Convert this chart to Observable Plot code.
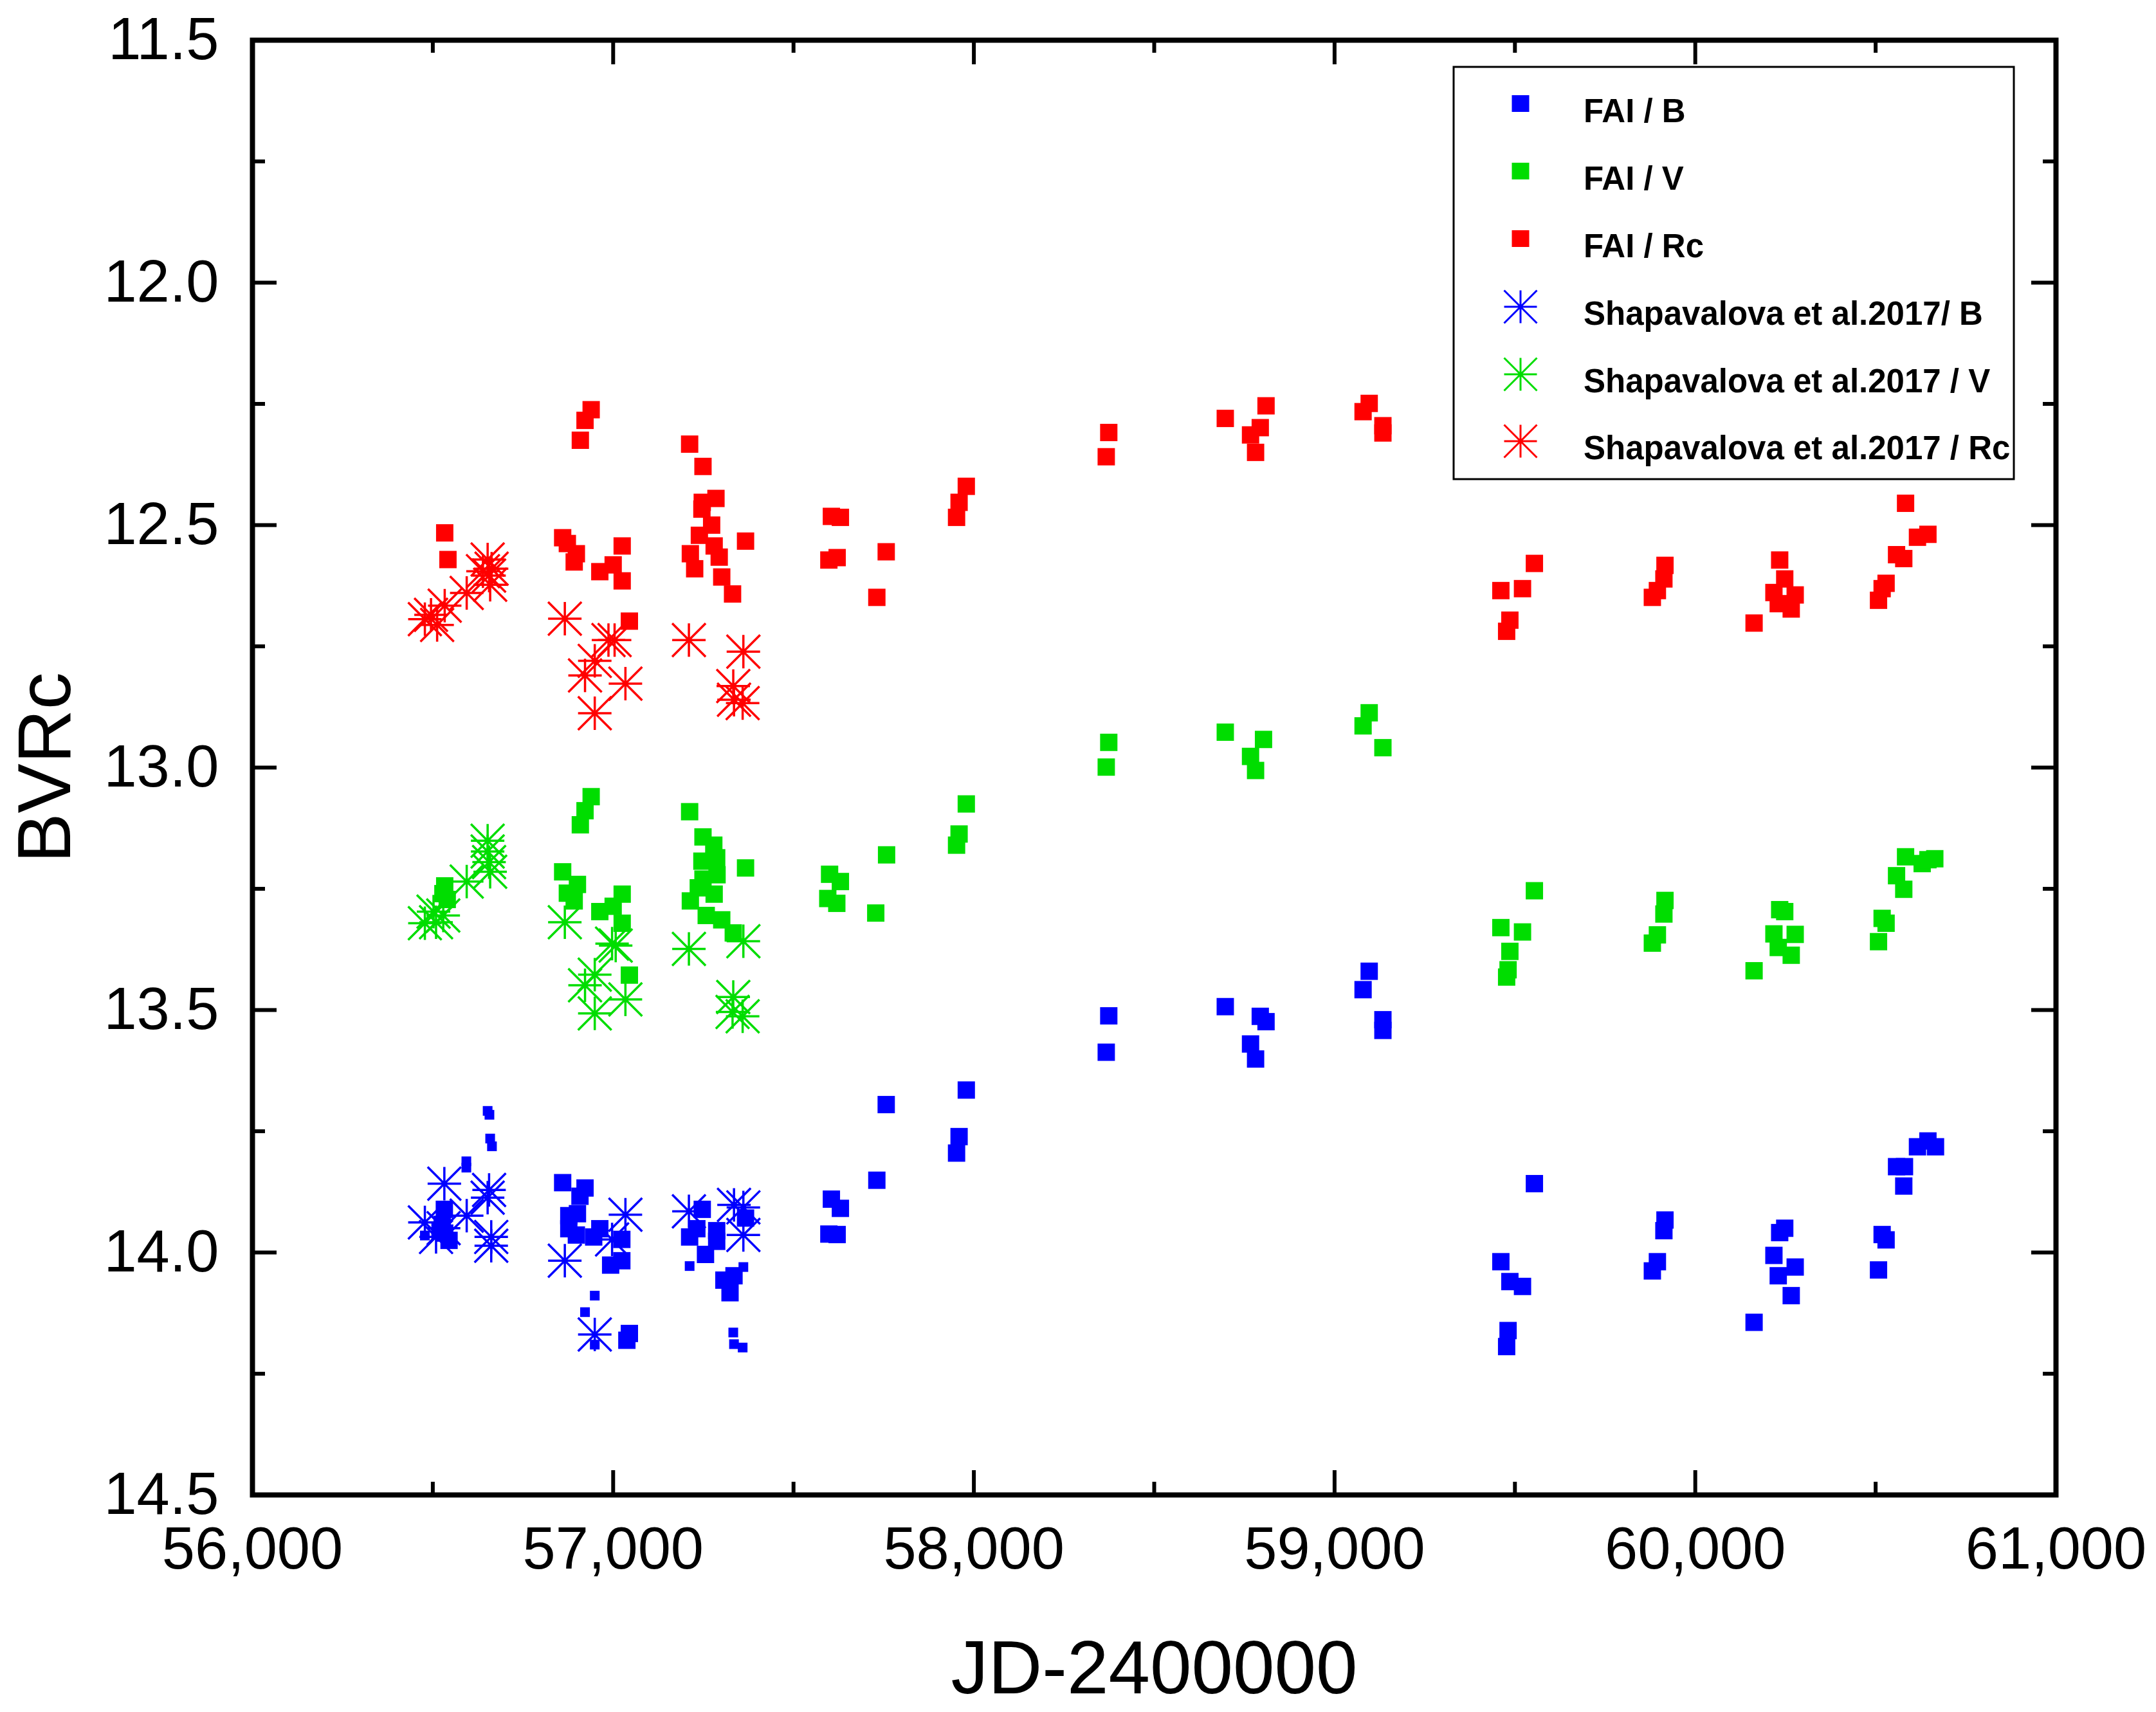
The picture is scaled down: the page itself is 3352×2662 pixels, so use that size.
<!DOCTYPE html>
<html><head><meta charset="utf-8">
<script src="https://cdn.jsdelivr.net/npm/d3@7"></script>
<script src="https://cdn.jsdelivr.net/npm/@observablehq/plot@0.6"></script>
<style>html,body{margin:0;padding:0;background:#fff;}</style>
</head><body><div id="chart"></div>
<script>
// ---------- data: [JD-2400000, magnitude] ----------
const faiB = [
 [56532,13.911],[56526,13.942],[56533,13.960],[56545,13.975],[56520,13.955],
 [56860,13.856],[56922,13.867],[56908,13.884],[56877,13.924],[56901,13.920],[56877,13.951],[56898,13.964],[56963,13.951],[56946,13.968],[57024,13.973],[57024,14.017],[56993,14.026],[57045,14.167],[57038,14.181],
 [57247,13.911],[57232,13.951],[57212,13.968],[57287,13.955],[57287,13.977],[57256,14.004],[57367,13.929],[57335,14.048],[57307,14.057],[57324,14.083],
 [57605,13.890],[57630,13.909],[57598,13.962],[57621,13.963],[57731,13.851],[57757,13.695],[57979,13.665],[57959,13.761],[57952,13.795],
 [58374,13.512],[58367,13.587],[58697,13.493],[58794,13.513],[58810,13.524],[58767,13.570],[58781,13.601],[59096,13.420],[59079,13.458],[59134,13.520],[59134,13.542],
 [59554,13.858],[59461,14.019],[59486,14.060],[59521,14.070],[59481,14.161],[59477,14.194],
 [59916,13.933],[59913,13.955],[59895,14.019],[59881,14.038],
 [60248,13.950],[60234,13.959],[60218,14.006],[60277,14.030],[60230,14.048],[60266,14.089],[60163,14.144],
 [60645,13.770],[60616,13.782],[60666,13.782],[60558,13.823],[60580,13.823],[60578,13.863],[60518,13.963],[60529,13.974],[60508,14.036]
];
const faiBSmall = [
 [56652,13.708],[56657,13.716],[56659,13.765],[56664,13.781],[56593,13.812],[56593,13.825],[56478,13.965],
 [56949,14.089],[56922,14.123],[56949,14.190],[57212,14.028],[57361,14.030],[57333,14.165],[57335,14.189],[57359,14.196]
];
const faiV = [
 [56533,13.244],[56540,13.272],[56528,13.260],
 [56860,13.215],[56901,13.241],[56873,13.259],[56892,13.275],[56939,13.060],[56922,13.089],[56909,13.118],[57025,13.261],[57000,13.286],[56963,13.297],[57025,13.321],[57045,13.428],
 [57212,13.091],[57249,13.143],[57279,13.160],[57287,13.186],[57246,13.193],[57288,13.221],[57249,13.230],[57236,13.248],[57280,13.261],[57214,13.275],[57258,13.305],[57301,13.314],[57333,13.341],[57367,13.207],
 [57600,13.220],[57630,13.235],[57595,13.270],[57620,13.280],[57758,13.180],[57728,13.300],[57952,13.160],[57959,13.137],[57979,13.075],
 [58374,12.948],[58367,12.999],[58697,12.927],[58803,12.942],[58767,12.977],[58781,13.006],[59096,12.887],[59079,12.914],[59134,12.959],
 [59554,13.254],[59461,13.330],[59521,13.339],[59486,13.379],[59481,13.417],[59477,13.432],
 [59916,13.274],[59913,13.302],[59895,13.345],[59881,13.362],
 [60234,13.293],[60248,13.297],[60218,13.343],[60277,13.344],[60230,13.371],[60266,13.387],[60163,13.419],
 [60583,13.184],[60629,13.198],[60664,13.188],[60645,13.190],[60558,13.223],[60578,13.251],[60518,13.311],[60529,13.321],[60508,13.359]
];
const faiR = [
 [56533,12.516],[56542,12.571],
 [56939,12.262],[56922,12.284],[56909,12.325],[56860,12.526],[56873,12.538],[56898,12.559],[56892,12.576],[57025,12.543],[57000,12.582],[56963,12.596],[57025,12.615],[57045,12.698],
 [57212,12.333],[57249,12.379],[57285,12.445],[57247,12.453],[57246,12.467],[57273,12.500],[57239,12.521],[57280,12.543],[57367,12.533],[57214,12.559],[57294,12.566],[57226,12.590],[57301,12.607],[57331,12.642],
 [57605,12.482],[57630,12.484],[57598,12.572],[57621,12.567],[57757,12.555],[57731,12.649],[57979,12.420],[57959,12.453],[57952,12.484],
 [58374,12.309],[58367,12.359],[58697,12.280],[58810,12.254],[58794,12.299],[58767,12.314],[58781,12.350],[59096,12.249],[59079,12.266],[59134,12.295],[59134,12.310],
 [59554,12.579],[59461,12.635],[59521,12.631],[59486,12.696],[59477,12.719],
 [59916,12.583],[59913,12.611],[59895,12.635],[59881,12.649],
 [60234,12.572],[60248,12.611],[60218,12.639],[60277,12.644],[60230,12.662],[60266,12.673],[60163,12.702],
 [60583,12.455],[60616,12.525],[60645,12.519],[60558,12.561],[60578,12.569],[60529,12.620],[60518,12.631],[60508,12.655]
];
const shapB = [
 [56478,13.938],[56532,13.858],[56509,13.968],[56530,13.950],[56594,13.924],[56656,13.871],[56652,13.887],[56662,13.968],[56662,13.986],
 [56866,14.017],[57034,13.922],[56997,13.973],[56949,14.169],[57210,13.915],[57335,13.902],[57361,13.907],[57361,13.964]
];
const shapV = [
 [56478,13.321],[56509,13.319],[56529,13.305],[56502,13.297],[56594,13.235],[56652,13.151],[56652,13.173],[56656,13.195],[56659,13.215],
 [56866,13.319],[56997,13.363],[57007,13.367],[56949,13.427],[56922,13.449],[57034,13.478],[56949,13.507],[57210,13.374],[57361,13.358],[57333,13.473],[57331,13.504],[57359,13.513]
];
const shapR = [
 [56478,12.694],[56512,12.706],[56533,12.666],[56495,12.685],[56594,12.640],[56652,12.571],[56663,12.590],[56656,12.604],[56659,12.623],[56639,12.595],
 [56866,12.693],[56987,12.737],[57004,12.737],[56949,12.780],[56922,12.810],[57034,12.827],[56949,12.888],[57210,12.737],[57361,12.761],[57333,12.832],[57335,12.860],[57359,12.867]
];
const xTicks = [56000,57000,58000,59000,60000,61000];
const xMinor = [56500,57500,58500,59500,60500];
const yTicks = [11.5,12.0,12.5,13.0,13.5,14.0,14.5];
const yMinor = [11.75,12.25,12.75,13.25,13.75,14.25];
const legendLabels = ["FAI / B","FAI / V","FAI / Rc","Shapavalova et al.2017/ B","Shapavalova et al.2017 / V","Shapavalova et al.2017 / Rc"];
const colB = "#0000ff", colV = "#00dd00", colR = "#ff0000";

// ---------- layout ----------
const W = 3352, H = 2662, mL = 392, mR = 156, mT = 62, mB = 338;
const innerW = W - mL - mR, innerH = H - mT - mB;
const majorLen = 38, minorLen = 20, tickW = 6;

const star = {draw(ctx, size) {
  const r = Math.sqrt(size / Math.PI);
  ctx.moveTo(-r, 0); ctx.lineTo(r, 0);
  ctx.moveTo(0, -r); ctx.lineTo(0, r);
  ctx.moveTo(-r, -r); ctx.lineTo(r, r);
  ctx.moveTo(-r, r); ctx.lineTo(r, -r);
}};
const starDots = (data, color) => Plot.dot(data, {x: d => d[0], y: d => d[1], symbol: star, r: 26, fill: "none", stroke: color, strokeWidth: 3.5});
const squareDots = (data, color, r) => Plot.dot(data, {x: d => d[0], y: d => d[1], symbol: "square", r, fill: color, stroke: "none"});

const plot = Plot.plot({
  width: W, height: H,
  marginLeft: mL, marginRight: mR, marginTop: mT, marginBottom: mB,
  style: {fontFamily: "'Liberation Sans', Arial, sans-serif", background: "white", color: "black"},
  x: {domain: [56000, 61000], label: null},
  y: {domain: [11.5, 14.5], reverse: true, label: null},
  marks: [
    starDots(shapB, colB), starDots(shapV, colV), starDots(shapR, colR),
    squareDots(faiB, colB, 15.2), squareDots(faiBSmall, colB, 8.5),
    squareDots(faiV, colV, 15.2), squareDots(faiR, colR, 15.2),
    // inward ticks on all four sides
    Plot.tickX(xTicks, {x: d => d, stroke: "black", strokeWidth: tickW, insetTop: innerH - majorLen}),
    Plot.tickX(xTicks, {x: d => d, stroke: "black", strokeWidth: tickW, insetBottom: innerH - majorLen}),
    Plot.tickX(xMinor, {x: d => d, stroke: "black", strokeWidth: tickW, insetTop: innerH - minorLen}),
    Plot.tickX(xMinor, {x: d => d, stroke: "black", strokeWidth: tickW, insetBottom: innerH - minorLen}),
    Plot.tickY(yTicks, {y: d => d, stroke: "black", strokeWidth: tickW, insetRight: innerW - majorLen}),
    Plot.tickY(yTicks, {y: d => d, stroke: "black", strokeWidth: tickW, insetLeft: innerW - majorLen}),
    Plot.tickY(yMinor, {y: d => d, stroke: "black", strokeWidth: tickW, insetRight: innerW - minorLen}),
    Plot.tickY(yMinor, {y: d => d, stroke: "black", strokeWidth: tickW, insetLeft: innerW - minorLen}),
    Plot.frame({stroke: "black", strokeWidth: 8}),
    Plot.axisX(xTicks, {tickSize: 0, tickPadding: 49, fontSize: 92, tickFormat: d3.format(","), label: null}),
    Plot.axisY(yTicks, {tickSize: 0, tickPadding: 52, fontSize: 92, tickFormat: d3.format(".1f"), label: null}),
    Plot.text(["JD-2400000"], {text: d => d, frameAnchor: "bottom", dy: 271, fontSize: 116, textAnchor: "middle", lineAnchor: "middle"}),
    Plot.text(["BVRc"], {text: d => d, frameAnchor: "left", dx: -321, rotate: -90, fontSize: 116, textAnchor: "middle", lineAnchor: "middle"})
  ]
});
document.getElementById("chart").appendChild(plot);

// ---------- legend ----------
const svg = d3.select(plot);
const lg = svg.append("g").attr("font-family", "'Liberation Sans', Arial, sans-serif").attr("text-anchor", "start");
lg.append("rect").attr("x", 2260).attr("y", 104).attr("width", 871).attr("height", 641)
  .attr("fill", "white").attr("stroke", "black").attr("stroke-width", 3);
const legendColors = [colB, colV, colR, colB, colV, colR];
const markerY = [161, 266, 371, 477, 582, 686];
const textY = [190, 295, 400, 505, 610, 714];
legendLabels.forEach((label, i) => {
  const cx = 2364, cy = markerY[i];
  if (i < 3) {
    lg.append("rect").attr("x", cx - 13.5).attr("y", cy - 13).attr("width", 27).attr("height", 26).attr("fill", legendColors[i]);
  } else {
    const r = 25.5;
    const p = `M${cx-r},${cy}L${cx+r},${cy}M${cx},${cy-r}L${cx},${cy+r}M${cx-r},${cy-r}L${cx+r},${cy+r}M${cx-r},${cy+r}L${cx+r},${cy-r}`;
    lg.append("path").attr("d", p).attr("fill", "none").attr("stroke", legendColors[i]).attr("stroke-width", 3);
  }
  lg.append("text").attr("x", 2462).attr("y", textY[i]).attr("font-size", 51).attr("font-weight", "bold")
    .attr("text-anchor", "start").attr("fill", "black").text(label);
});
</script>
</body></html>
